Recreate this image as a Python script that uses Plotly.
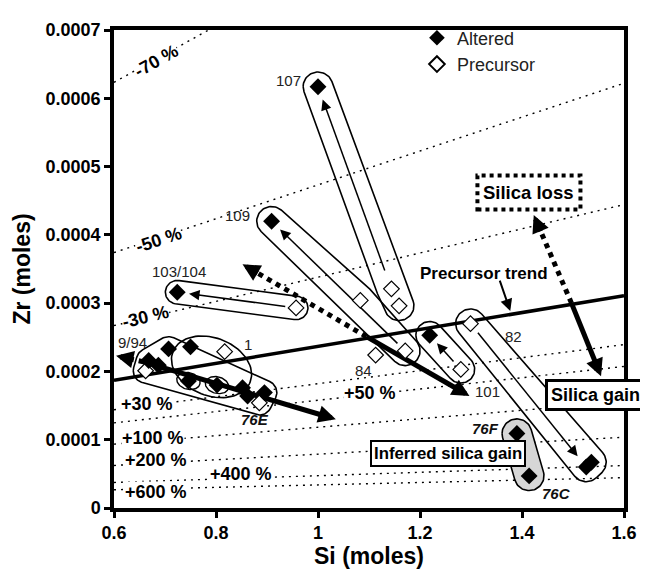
import numpy as np
import plotly.graph_objects as go

# ---------------- data ----------------
X_RANGE = [0.6, 1.6]
Y_RANGE = [0.0, 0.0007]
X_TICKS = [0.6, 0.8, 1.0, 1.2, 1.4, 1.6]
X_TICK_LABELS = ["0.6", "0.8", "1", "1.2", "1.4", "1.6"]
Y_TICKS = [0, 0.0001, 0.0002, 0.0003, 0.0004, 0.0005, 0.0006, 0.0007]
Y_TICK_LABELS = ["0", "0.0001", "0.0002", "0.0003", "0.0004", "0.0005", "0.0006", "0.0007"]

# altered samples (filled diamonds)
ALT_SI = [1.000, 0.909, 0.724, 0.707, 0.750, 0.668, 0.687, 0.746, 0.802,
          0.852, 0.862, 0.895, 1.219, 1.526, 1.536, 1.390, 1.414]
ALT_ZR = [6.17e-4, 4.20e-4, 3.16e-4, 2.33e-4, 2.36e-4, 2.16e-4, 2.09e-4, 1.86e-4, 1.80e-4,
          1.76e-4, 1.64e-4, 1.69e-4, 2.53e-4, 0.60e-4, 0.67e-4, 1.09e-4, 0.47e-4]

# precursor samples (open diamonds)
PRE_SI = [1.144, 1.159, 1.083, 1.171, 1.113, 1.280, 1.299, 0.957, 0.817, 0.662, 0.885]
PRE_ZR = [3.21e-4, 2.96e-4, 3.04e-4, 2.30e-4, 2.24e-4, 2.03e-4, 2.70e-4, 2.93e-4, 2.29e-4,
          2.01e-4, 1.54e-4]

# precursor trend line
TREND_SI = [0.6, 1.6]
TREND_ZR = [1.87e-4, 3.11e-4]

# mass-change isolines relative to the precursor trend (%)
PCT_CHANGE = [-70, -50, -30, 30, 50, 100, 200, 400, 600]
PCT_LABEL_SI = [0.683, 0.687, 0.662, 0.664, 1.101, 0.676, 0.682, 0.849, 0.683]
PCT_LABEL_ZR = [6.54e-4, 3.93e-4, 2.80e-4, 1.53e-4, 1.69e-4, 1.03e-4, 0.70e-4, 0.50e-4, 0.23e-4]
PCT_ROTATED = [True, True, True, False, False, False, False, False, False]

# sample labels
SAMPLE_LABELS = ["107", "109", "103/104", "9/94", "1", "84", "82", "101"]
SAMPLE_LABEL_SI = [0.942, 0.843, 0.728, 0.637, 0.862, 1.089, 1.384, 1.332]
SAMPLE_LABEL_ZR = [6.26e-4, 4.29e-4, 3.46e-4, 2.43e-4, 2.40e-4, 2.01e-4, 2.51e-4, 1.71e-4]
ITALIC_LABELS = ["76E", "76F", "76C"]
ITALIC_LABEL_SI = [0.876, 1.328, 1.468]
ITALIC_LABEL_ZR = [1.29e-4, 1.16e-4, 0.21e-4]

# groupings (indices into ALT_* / PRE_*) for enclosing loops
LOOPS = [  # (altered idx, precursor idx, padding px)
    ([0], [0, 1], 15),        # 107
    ([1], [2, 3], 15),        # 109
    ([2], [7], 12),           # 103/104
    ([5, 3, 11], [9, 10], 12.5),  # 9/94 - 76E
    ([12], [5], 14),          # 101
    ([13, 14], [6], 15),      # 82
]
GRAY_LOOP = ([15, 16], [], 15)  # 76F / 76C
ELLIPSE_1 = ([4, 7, 9], [8])   # sample 1 group
SMALL_RINGS = [7, 8]

# alteration arrows (precursor idx -> altered idx, start gap px, end gap px)
PAIR_ARROWS = [(0, 0, 20, 14), (3, 1, 11, 12), (7, 2, 11, 12), (5, 12, 11, 11), (6, 13, 12, 14)]

# silica gain / loss vector annotations
VEC_ORIGIN_SI = [0.658, 1.095, 1.497]
VEC_ORIGIN_ZR = [2.14e-4, 2.51e-4, 3.00e-4]
GAIN_TIP_SI = [1.035, 1.297, 1.555]
GAIN_TIP_ZR = [1.30e-4, 1.64e-4, 1.93e-4]
LOSS_TIP_SI = [0.604, 0.852, 1.423]
LOSS_TIP_ZR = [2.23e-4, 3.57e-4, 4.29e-4]

# ---------------- layout geometry ----------------
# the page body adds an 8 px offset, so the figure is 8 px smaller on each axis
W, H = 640, 569
M_L, M_R, M_T, M_B = 105, 20, 11, 69
PW, PH = W - M_L - M_R, H - M_T - M_B
SX = PW / (X_RANGE[1] - X_RANGE[0])
SY = PH / (Y_RANGE[1] - Y_RANGE[0])
FONT = "Liberation Sans, Arial, Helvetica, sans-serif"


def to_px(x, y):
    return (x - X_RANGE[0]) * SX, (y - Y_RANGE[0]) * SY


def from_px(u, v):
    return X_RANGE[0] + u / SX, Y_RANGE[0] + v / SY


def hull(points):
    pts = sorted(set(points))
    if len(pts) <= 2:
        return pts
    def cross(o, a, b):
        return (a[0]-o[0])*(b[1]-o[1]) - (a[1]-o[1])*(b[0]-o[0])
    lower, upper = [], []
    for p in pts:
        while len(lower) >= 2 and cross(lower[-2], lower[-1], p) <= 0:
            lower.pop()
        lower.append(p)
    for p in reversed(pts):
        while len(upper) >= 2 and cross(upper[-2], upper[-1], p) <= 0:
            upper.pop()
        upper.append(p)
    return lower[:-1] + upper[:-1]


def rounded_hull(members, r, n=72):
    samples = []
    t = np.linspace(0, 2*np.pi, n, endpoint=False)
    for (x, y) in members:
        u, v = to_px(x, y)
        for a in t:
            samples.append((round(u + r*np.cos(a), 3), round(v + r*np.sin(a), 3)))
    hp = hull(samples)
    hp.append(hp[0])
    xs, ys = zip(*[from_px(u, v) for u, v in hp])
    return list(xs), list(ys)


def ellipse(cx, cy, a, b, tilt_deg, n=90):
    u0, v0 = to_px(cx, cy)
    th = np.deg2rad(tilt_deg)
    t = np.linspace(0, 2*np.pi, n)
    u = u0 + a*np.cos(t)*np.cos(th) - b*np.sin(t)*np.sin(th)
    v = v0 + a*np.cos(t)*np.sin(th) + b*np.sin(t)*np.cos(th)
    xs, ys = zip(*[from_px(uu, vv) for uu, vv in zip(u, v)])
    return list(xs), list(ys)


def members_of(alt_idx, pre_idx):
    return [(ALT_SI[i], ALT_ZR[i]) for i in alt_idx] + [(PRE_SI[i], PRE_ZR[i]) for i in pre_idx]


def trend(x):
    s = (TREND_ZR[1] - TREND_ZR[0]) / (TREND_SI[1] - TREND_SI[0])
    return TREND_ZR[0] + s * (np.asarray(x) - TREND_SI[0])


fig = go.Figure()
annotations = []

# mass-change isolines
xs_line = np.array(TREND_SI)
for p in PCT_CHANGE:
    fig.add_trace(go.Scatter(x=xs_line, y=trend(xs_line) / (1 + p/100.0), mode="lines",
                             line=dict(color="black", width=1.4, dash="2px,5px"),
                             showlegend=False, hoverinfo="skip"))

# percentage labels
tslope = (TREND_ZR[1] - TREND_ZR[0]) / (TREND_SI[1] - TREND_SI[0])
for p, x, y, rot in zip(PCT_CHANGE, PCT_LABEL_SI, PCT_LABEL_ZR, PCT_ROTATED):
    ang = -np.degrees(np.arctan(tslope / (1 + p/100.0) * SY / SX)) if rot else 0
    txt = ("+%d %%" % p) if p > 0 else ("%d %%" % p)
    annotations.append(dict(x=x, y=y, text=txt, showarrow=False, textangle=ang,
                            font=dict(family=FONT, size=18, color="black", weight="bold"),
                            bgcolor="white", borderpad=0))

# loops
for alt_idx, pre_idx, r in LOOPS:
    lx, ly = rounded_hull(members_of(alt_idx, pre_idx), r)
    fig.add_trace(go.Scatter(x=lx, y=ly, mode="lines", line=dict(color="black", width=1.6),
                             showlegend=False, hoverinfo="skip"))
gx, gy = rounded_hull(members_of(GRAY_LOOP[0], GRAY_LOOP[1]), GRAY_LOOP[2])
fig.add_trace(go.Scatter(x=gx, y=gy, mode="lines", fill="toself", fillcolor="#d6d6d6",
                         line=dict(color="black", width=1.6), showlegend=False, hoverinfo="skip"))
em = members_of(*ELLIPSE_1)
ecx = np.mean([m[0] for m in em])
ecy = np.mean([m[1] for m in em])
ex, ey = ellipse(ecx, ecy, 42, 29.5, -22)
fig.add_trace(go.Scatter(x=ex, y=ey, mode="lines", line=dict(color="black", width=1.6),
                         showlegend=False, hoverinfo="skip"))
for i in SMALL_RINGS:
    rx, ry = ellipse(ALT_SI[i], ALT_ZR[i], 12, 8.5, -15)
    fig.add_trace(go.Scatter(x=rx, y=ry, mode="lines", line=dict(color="black", width=1.4),
                             showlegend=False, hoverinfo="skip"))

# precursor trend
fig.add_trace(go.Scatter(x=TREND_SI, y=TREND_ZR, mode="lines", line=dict(color="black", width=3.5),
                         showlegend=False, hoverinfo="skip"))


def arrow(x0, y0, x1, y1, width, dash, head_size, gap0=0.0, gap1=0.0, head_len=10.0):
    u0, v0 = to_px(x0, y0)
    u1, v1 = to_px(x1, y1)
    du, dv = u1 - u0, v1 - v0
    L = np.hypot(du, dv)
    eu, ev = du / L, dv / L
    su, sv = u0 + eu*gap0, v0 + ev*gap0
    tu, tv = u1 - eu*gap1, v1 - ev*gap1
    lu, lv = tu - eu*head_len*0.6, tv - ev*head_len*0.6
    sx_, sy_ = from_px(su, sv)
    lx_, ly_ = from_px(lu, lv)
    tx_, ty_ = from_px(tu, tv)
    fig.add_trace(go.Scatter(x=[sx_, lx_], y=[sy_, ly_], mode="lines",
                             line=dict(color="black", width=width, dash=dash),
                             showlegend=False, hoverinfo="skip"))
    annotations.append(dict(x=tx_, y=ty_, ax=-eu*head_len*1.2, ay=ev*head_len*1.2,
                            axref="pixel", ayref="pixel", text="", showarrow=True,
                            arrowhead=2, arrowsize=head_size, arrowwidth=width,
                            arrowcolor="black", standoff=0))


# thick silica gain / loss vectors
for ox, oy, gxx, gyy, lxx, lyy in zip(VEC_ORIGIN_SI, VEC_ORIGIN_ZR, GAIN_TIP_SI, GAIN_TIP_ZR,
                                      LOSS_TIP_SI, LOSS_TIP_ZR):
    arrow(ox, oy, gxx, gyy, 5, "solid", 0.7, head_len=16)
    arrow(ox, oy, lxx, lyy, 5, "dot", 0.7, head_len=16)

# thin alteration arrows
for pi, ai, g0, g1 in PAIR_ARROWS:
    arrow(PRE_SI[pi], PRE_ZR[pi], ALT_SI[ai], ALT_ZR[ai], 1.5, "solid", 1.4, g0, g1, head_len=10)

# markers
fig.add_trace(go.Scatter(x=PRE_SI, y=PRE_ZR, mode="markers", name="Precursor", legendrank=2,
                         marker=dict(symbol="diamond", size=12, color="white",
                                     line=dict(color="black", width=1.2)),
                         hoverinfo="skip"))
fig.add_trace(go.Scatter(x=ALT_SI, y=ALT_ZR, mode="markers", name="Altered", legendrank=1,
                         marker=dict(symbol="diamond", size=13, color="black",
                                     line=dict(color="black", width=0)),
                         hoverinfo="skip"))

# sample labels
for t, x, y in zip(SAMPLE_LABELS, SAMPLE_LABEL_SI, SAMPLE_LABEL_ZR):
    annotations.append(dict(x=x, y=y, text=t, showarrow=False,
                            font=dict(family=FONT, size=15, color="#222222")))
for t, x, y in zip(ITALIC_LABELS, ITALIC_LABEL_SI, ITALIC_LABEL_ZR):
    annotations.append(dict(x=x, y=y, text="<i>%s</i>" % t, showarrow=False,
                            font=dict(family=FONT, size=15, color="#111111", weight="bold")))

# text boxes
annotations.append(dict(x=1.544, y=1.657e-4, text="Silica gain", showarrow=False,
                        font=dict(family=FONT, size=18, color="black", weight="bold"),
                        bgcolor="white", bordercolor="black", borderwidth=3, borderpad=3))
annotations.append(dict(x=1.254, y=0.80e-4, text="Inferred silica gain", showarrow=False,
                        font=dict(family=FONT, size=16.8, color="black", weight="bold"),
                        bgcolor="white", bordercolor="black", borderwidth=2, borderpad=2))
annotations.append(dict(x=1.413, y=4.62e-4, text="Silica loss", showarrow=False,
                        font=dict(family=FONT, size=18.5, color="black", weight="bold")))
annotations.append(dict(x=1.326, y=3.44e-4, text="Precursor trend", showarrow=False,
                        font=dict(family=FONT, size=17, color="black", weight="bold")))
annotations.append(dict(x=1.377, y=float(trend(1.377)) + 0.05e-4, ax=-11, ay=-32,
                        axref="pixel", ayref="pixel", text="", showarrow=True,
                        arrowhead=2, arrowsize=1.2, arrowwidth=2, arrowcolor="black", standoff=0))

shapes = [dict(type="rect", xref="x", yref="y", x0=1.3126, x1=1.5146, y0=4.371e-4, y1=4.871e-4,
               line=dict(color="black", width=4, dash="dot"), fillcolor="white", layer="above")]

axis_common = dict(showline=True, linecolor="black", linewidth=3.5, mirror=True,
                   ticks="outside", ticklen=6, tickwidth=2.5, tickcolor="black",
                   showgrid=False, zeroline=False,
                   tickfont=dict(family=FONT, size=18, color="black", weight="bold"))

fig.update_layout(
    width=W, height=H, autosize=False,
    margin=dict(l=M_L, r=M_R, t=M_T, b=M_B),
    paper_bgcolor="white", plot_bgcolor="white",
    xaxis=dict(range=X_RANGE, tickvals=X_TICKS, ticktext=X_TICK_LABELS,
               title=dict(text="Si (moles)", standoff=4,
                          font=dict(family=FONT, size=23, color="black", weight="bold")),
               **axis_common),
    yaxis=dict(range=Y_RANGE, tickvals=Y_TICKS, ticktext=Y_TICK_LABELS,
               title=dict(text="Zr (moles)", standoff=10,
                          font=dict(family=FONT, size=23, color="black", weight="bold")),
               **axis_common),
    legend=dict(x=0.594, y=1.022, xanchor="left", yanchor="top", bgcolor="rgba(0,0,0,0)",
                font=dict(family=FONT, size=18, color="#222222"), traceorder="normal",
                itemsizing="constant"),
    annotations=annotations,
    shapes=shapes,
)

fig.write_html("out.html")
